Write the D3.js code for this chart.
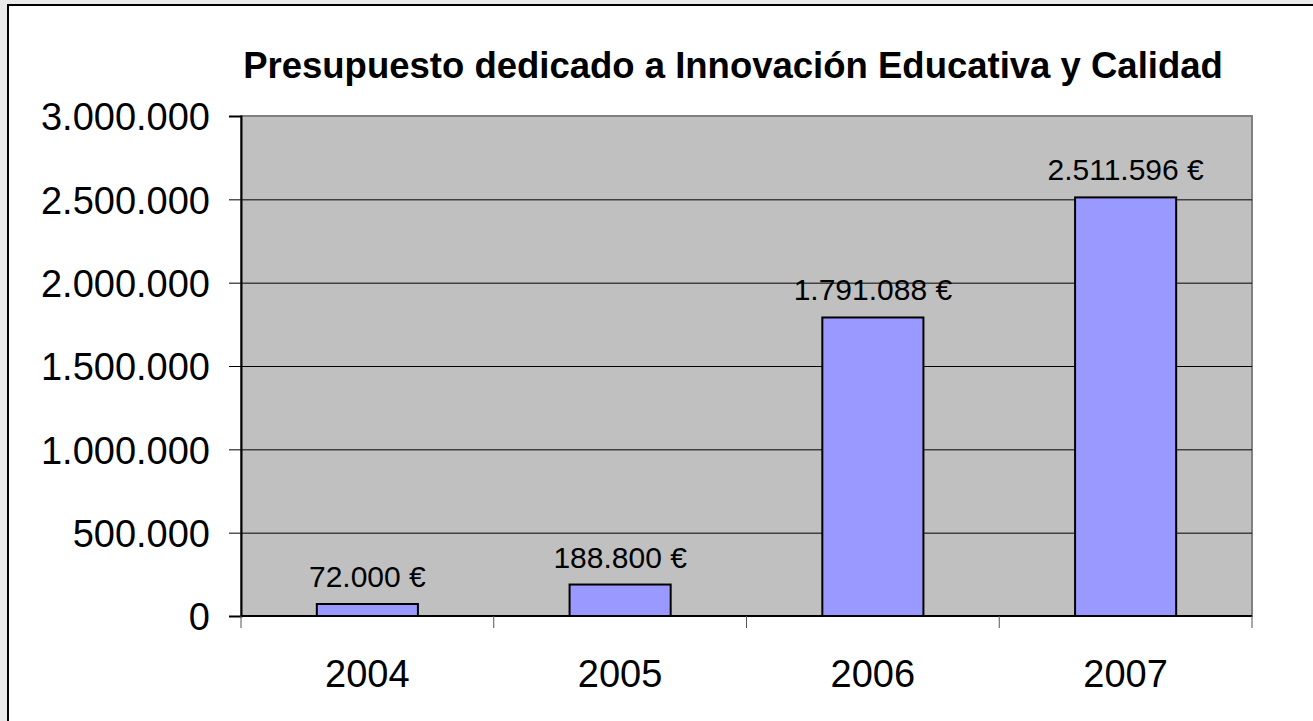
<!DOCTYPE html>
<html>
<head>
<meta charset="utf-8">
<script src="https://cdn.jsdelivr.net/npm/d3@7"></script>
<style>
  html, body { margin: 0; padding: 0; background: #eaeaea; }
  svg { display: block; }
</style>
</head>
<body>
<div id="chart"></div>
<script>
var years = ["2004", "2005", "2006", "2007"];
var budget = [72000, 188800, 1791088, 2511596];
var yTicks = [0, 500000, 1000000, 1500000, 2000000, 2500000, 3000000];
var title = "Presupuesto dedicado a Innovación Educativa y Calidad";

var width = 1313, height = 721;
var plot = { left: 241, top: 116, right: 1252, bottom: 616 };

var es = d3.formatLocale({ decimal: ",", thousands: ".", grouping: [3], currency: ["", " €"] });
var fmt = es.format(",d");

var svg = d3.select("#chart")
    .append("svg")
    .attr("width", width)
    .attr("height", height)
    .style("font-family", "Arial, 'Liberation Sans', sans-serif");

// chart frame
svg.append("rect")
    .attr("x", 8).attr("y", 5)
    .attr("width", width).attr("height", height)
    .attr("fill", "#fff");
svg.append("path")
    .attr("d", "M8," + height + "V5H" + width)
    .attr("fill", "none")
    .attr("stroke", "#000")
    .attr("stroke-width", 2);

var x = d3.scaleBand()
    .domain(years)
    .range([plot.left, plot.right])
    .paddingInner(0.6)
    .paddingOuter(0.3);

var y = d3.scaleLinear()
    .domain([0, 3000000])
    .range([plot.bottom, plot.top]);

// plot background
svg.append("rect")
    .attr("x", plot.left).attr("y", plot.top)
    .attr("width", plot.right - plot.left)
    .attr("height", plot.bottom - plot.top)
    .attr("fill", "#c0c0c0")
    .attr("stroke", "#808080")
    .attr("stroke-width", 2);

// gridlines
svg.append("g")
    .selectAll("line")
    .data(yTicks.slice(1, -1))
    .enter().append("line")
    .attr("x1", plot.left).attr("x2", plot.right)
    .attr("y1", function (d) { return y(d) + 0.5; })
    .attr("y2", function (d) { return y(d) + 0.5; })
    .attr("stroke", "#000")
    .attr("stroke-width", 1);

// bars
svg.append("g")
    .selectAll("rect")
    .data(budget)
    .enter().append("rect")
    .attr("x", function (d, i) { return x(years[i]); })
    .attr("y", function (d) { return y(d); })
    .attr("width", x.bandwidth())
    .attr("height", function (d) { return y(0) - y(d); })
    .attr("fill", "#9999ff")
    .attr("stroke", "#000")
    .attr("stroke-width", 2);

// value labels
svg.append("g")
    .selectAll("text")
    .data(budget)
    .enter().append("text")
    .attr("x", function (d, i) { return x(years[i]) + x.bandwidth() / 2; })
    .attr("y", function (d) { return y(d) - 17; })
    .attr("text-anchor", "middle")
    .style("font-size", "30px")
    .attr("fill", "#000")
    .text(function (d) { return fmt(d) + " €"; });

// y axis
var yAxis = d3.axisLeft(y)
    .tickValues(yTicks)
    .tickSize(12)
    .tickPadding(19)
    .tickFormat(function (d) { return fmt(d); });

var gy = svg.append("g")
    .attr("transform", "translate(" + plot.left + ",0)")
    .call(yAxis);
gy.select(".domain").attr("stroke", "#000").attr("stroke-width", 2);
gy.selectAll(".tick line").attr("stroke", "#000");
gy.selectAll(".tick text")
    .style("font-size", "38px")
    .style("font-family", "Arial, 'Liberation Sans', sans-serif")
    .attr("fill", "#000")
    .attr("dy", "0.36em");

// x axis, ticks at category boundaries
var gx = svg.append("g")
    .attr("transform", "translate(0," + plot.bottom + ")");
gx.append("line")
    .attr("x1", plot.left).attr("x2", plot.right)
    .attr("stroke", "#000").attr("stroke-width", 2);
var bounds = d3.range(years.length + 1).map(function (i) {
    return plot.left + i * x.step();
});
gx.selectAll(".bound")
    .data(bounds)
    .enter().append("line")
    .attr("class", "bound")
    .attr("x1", function (d) { return d; })
    .attr("x2", function (d) { return d; })
    .attr("y1", 0).attr("y2", 12)
    .attr("stroke", "#555");
gx.selectAll(".lbl")
    .data(years)
    .enter().append("text")
    .attr("class", "lbl")
    .attr("x", function (d) { return x(d) + x.bandwidth() / 2; })
    .attr("y", 71)
    .attr("text-anchor", "middle")
    .style("font-size", "38px")
    .attr("fill", "#000")
    .text(function (d) { return d; });

// title
svg.append("text")
    .attr("x", 733)
    .attr("y", 78)
    .attr("text-anchor", "middle")
    .style("font-size", "36.5px")
    .style("font-weight", "bold")
    .attr("fill", "#000")
    .text(title);
</script>
</body>
</html>
